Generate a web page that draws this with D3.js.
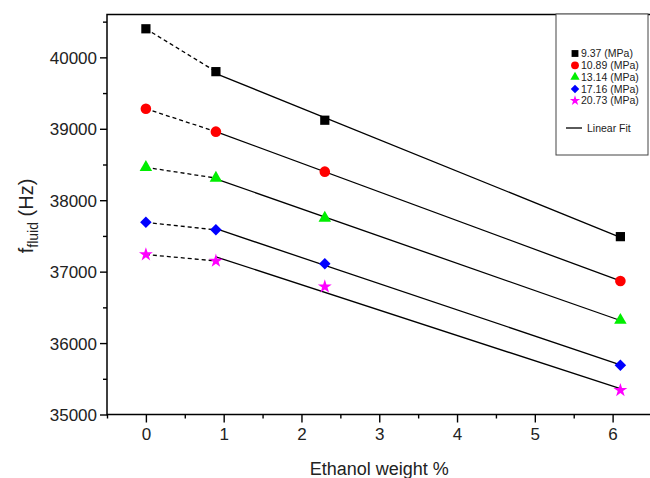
<!DOCTYPE html>
<meta charset="utf-8">
<style>
body { margin: 0; background: #fff; }
svg { display: block; font-family: Arial, "Liberation Sans", Helvetica, sans-serif; }
.axis path, .axis line { stroke: #000; stroke-width: 1.4; fill: none; }
.axis text { font-size: 17px; fill: #222; }
.fit { fill: none; stroke: #000; stroke-width: 1.3; }
.dash { fill: none; stroke: #000; stroke-width: 1.3; stroke-dasharray: 4,3; }
</style>
<body>
<svg width="650" height="478"></svg>
<script src="https://d3js.org/d3.v7.min.js"></script>
<script>

// ethanol weight % at which each pressure was measured
var ethanol = [0, 0.9, 2.3, 6.1];

var pressures = ["9.37 (MPa)", "10.89 (MPa)", "13.14 (MPa)", "17.16 (MPa)", "20.73 (MPa)"];
var colors = ["#000000", "#ff0000", "#00ee00", "#0000ff", "#ff00ff"];

// f_fluid (Hz) per pressure
var f937 = [40400, 39800, 39120, 37490];
var f1089 = [39280, 38960, 38400, 36870];
var f1314 = [38460, 38310, 37750, 36320];
var f1716 = [37690, 37585, 37110, 35690];
var f2073 = [37240, 37150, 36790, 35340];

var xTicks = [0, 1, 2, 3, 4, 5, 6];
var yTicks = [35000, 36000, 37000, 38000, 39000, 40000];

var series = [f937, f1089, f1314, f1716, f2073].map(function(v, i) {
  return { name: pressures[i], color: colors[i], values: v };
});

var svg = d3.select("svg"),
    margin = {top: 14.5, left: 107, bottom: 414.5, right: 651.5};

var x = d3.scaleLinear().domain([-0.5, 6.5]).range([margin.left, margin.right]),
    y = d3.scaleLinear().domain([35000, 40600]).range([margin.bottom, margin.top]);

// minor ticks
svg.append("g").attr("class", "axis")
    .attr("transform", "translate(0," + margin.bottom + ")")
    .call(d3.axisBottom(x).tickValues(d3.range(-0.5, 6.6, 1)).tickSize(4).tickFormat(""));
svg.append("g").attr("class", "axis")
    .attr("transform", "translate(" + margin.left + ",0)")
    .call(d3.axisLeft(y).tickValues(d3.range(35500, 40600, 1000)).tickSize(4).tickFormat(""));

// major ticks
svg.append("g").attr("class", "axis")
    .attr("transform", "translate(0," + margin.bottom + ")")
    .call(d3.axisBottom(x).tickValues(xTicks).tickSize(8).tickPadding(5).tickFormat(d3.format("d")));
svg.append("g").attr("class", "axis")
    .attr("transform", "translate(" + margin.left + ",0)")
    .call(d3.axisLeft(y).tickValues(yTicks).tickSize(7).tickPadding(3).tickFormat(d3.format("d")))
    .selectAll("text").attr("dy", "0.36em");
svg.selectAll(".axis .domain").remove();

// frame
svg.append("rect")
    .attr("x", margin.left).attr("y", margin.top)
    .attr("width", margin.right - margin.left).attr("height", margin.bottom - margin.top)
    .attr("fill", "none").attr("stroke", "#000").attr("stroke-width", 1.5);

// fit (least squares over points with ethanol > 0) + dashed link from pure water point
function fitLine(vals) {
  var xs = ethanol.slice(1), ys = vals.slice(1);
  var mx = d3.mean(xs), my = d3.mean(ys);
  var sxy = d3.sum(xs, function(d, i) { return (d - mx) * (ys[i] - my); });
  var sxx = d3.sum(xs, function(d) { return (d - mx) * (d - mx); });
  var b = sxy / sxx, a = my - b * mx;
  return function(t) { return a + b * t; };
}

var line = d3.line().x(function(d) { return x(d[0]); }).y(function(d) { return y(d[1]); });

series.forEach(function(s) {
  var f = fitLine(s.values);
  svg.append("path").attr("class", "fit")
      .attr("d", line([[ethanol[1], f(ethanol[1])], [ethanol[3], f(ethanol[3])]]));
  svg.append("path").attr("class", "dash")
      .attr("d", line([[ethanol[0], s.values[0]], [ethanol[1], s.values[1]]]));
});

var symbols = [
  { type: d3.symbolSquare, size: 85, rot: 0 },
  { type: d3.symbolCircle, size: 88, rot: 0 },
  { type: d3.symbolTriangle, size: 68, rot: 0 },
  { type: d3.symbolSquare, size: 66, rot: 45 },
  { type: d3.symbolStar, size: 60, rot: 0 }
];

function sym(i, scale) {
  return d3.symbol().type(symbols[i].type).size(symbols[i].size * (scale || 1))();
}

series.forEach(function(s, i) {
  svg.append("g").selectAll("path")
    .data(s.values)
    .join("path")
      .attr("d", sym(i))
      .attr("fill", s.color)
      .attr("transform", function(d, j) {
        return "translate(" + x(ethanol[j]) + "," + y(d) + ") rotate(" + symbols[i].rot + ")";
      });
});

// legend
var lg = svg.append("g").attr("transform", "translate(556,14)");
lg.append("rect").attr("width", 92).attr("height", 141)
    .attr("fill", "#fff").attr("stroke", "#444").attr("stroke-width", 1);
series.forEach(function(s, i) {
  var yy = 39.5 + i * 11.8;
  lg.append("path").attr("d", sym(i, 0.55)).attr("fill", s.color)
      .attr("transform", "translate(19," + yy + ") rotate(" + symbols[i].rot + ")");
  lg.append("text").attr("x", 25).attr("y", yy).attr("dy", "0.35em")
      .attr("font-size", 10.5).attr("fill", "#222").text(s.name);
});
lg.append("line").attr("x1", 10).attr("x2", 26).attr("y1", 114).attr("y2", 114)
    .attr("stroke", "#000").attr("stroke-width", 1.3);
lg.append("text").attr("x", 31).attr("y", 114).attr("dy", "0.35em")
    .attr("font-size", 10.5).attr("fill", "#222").text("Linear Fit");

// axis titles
svg.append("text")
    .attr("x", (margin.left + margin.right) / 2).attr("y", 475)
    .attr("text-anchor", "middle").attr("font-size", 18).attr("fill", "#222")
    .text("Ethanol weight %");

var yl = svg.append("text")
    .attr("transform", "translate(33,216) rotate(-90)")
    .attr("text-anchor", "middle").attr("font-size", 20).attr("fill", "#222");
yl.append("tspan").text("f");
yl.append("tspan").attr("font-size", 14).attr("dy", 5).text("fluid");
yl.append("tspan").attr("dy", -5).text(" (Hz)");

</script>
</body>
